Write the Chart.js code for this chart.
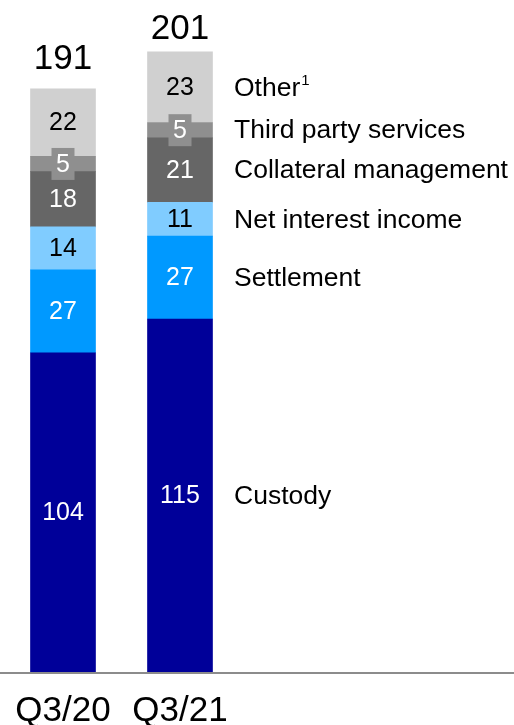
<!DOCTYPE html>
<html>
<head>
<meta charset="utf-8">
<script src="https://cdn.jsdelivr.net/npm/chart.js@4"></script>
<style>
  body { margin: 0; background: #fff; }
  canvas { display: block; }
</style>
</head>
<body>
<canvas id="revchart" width="514" height="725"></canvas>
<script>
const quarters = ['Q3/20', 'Q3/21'];
const custody = [104, 115];
const settlement = [27, 27];
const netInterest = [14, 11];
const collateral = [18, 21];
const thirdParty = [5, 5];
const other = [22, 23];
const totals = [191, 201];

const FONT = '"Liberation Sans", Arial, sans-serif';

// values inside each segment, totals on top, series names beside the last bar
const segmentLabels = {
    id: 'segmentLabels',
    afterDatasetsDraw(chart) {
        const ctx = chart.ctx;
        const yScale = chart.scales.y;
        ctx.save();

        // baseline across the whole width
        const y0 = yScale.getPixelForValue(0);
        ctx.strokeStyle = '#8c8c8c';
        ctx.lineWidth = 2;
        ctx.beginPath();
        ctx.moveTo(0, y0 + 1);
        ctx.lineTo(chart.width, y0 + 1);
        ctx.stroke();

        ctx.textAlign = 'center';
        ctx.textBaseline = 'middle';
        ctx.font = '25px ' + FONT;
        chart.data.datasets.forEach((ds, i) => {
            chart.getDatasetMeta(i).data.forEach((bar, j) => {
                const yMid = (bar.y + bar.base) / 2;
                if (ds.boxed) {
                    ctx.fillStyle = ds.backgroundColor;
                    ctx.fillRect(bar.x - 11.5, yMid - 16, 23, 32);
                }
                ctx.fillStyle = ds.labelColor;
                ctx.fillText(ds.data[j], bar.x, yMid + 1);
            });
        });

        ctx.font = '35px ' + FONT;
        ctx.fillStyle = '#000';
        totals.forEach((t, j) => {
            const x = chart.getDatasetMeta(0).data[j].x;
            ctx.fillText(t, x, yScale.getPixelForValue(t) - 26);
        });

        const last = quarters.length - 1;
        ctx.textAlign = 'left';
        chart.data.datasets.forEach((ds, i) => {
            const bar = chart.getDatasetMeta(i).data[last];
            const y = (bar.y + bar.base) / 2;
            ctx.font = '26.5px ' + FONT;
            ctx.fillText(ds.label, 234, y + 1);
            if (ds.note) {
                const w = ctx.measureText(ds.label).width;
                ctx.font = '15px ' + FONT;
                ctx.fillText(ds.note, 234 + w + 1, y - 6);
            }
        });
        ctx.restore();
    }
};

const ctx = document.getElementById('revchart').getContext('2d');
const chart = new Chart(ctx, {
    type: 'bar',
    data: {
        labels: quarters,
        datasets: [
            { label: 'Custody', data: custody, backgroundColor: '#000099', labelColor: '#fff' },
            { label: 'Settlement', data: settlement, backgroundColor: '#0099ff', labelColor: '#fff' },
            { label: 'Net interest income', data: netInterest, backgroundColor: '#80ccff', labelColor: '#000' },
            { label: 'Collateral management', data: collateral, backgroundColor: '#666666', labelColor: '#fff' },
            { label: 'Third party services', data: thirdParty, backgroundColor: '#8f8f8f', labelColor: '#fff', boxed: true },
            { label: 'Other', data: other, backgroundColor: '#d0d0d0', labelColor: '#000', note: '1' }
        ]
    },
    options: {
        responsive: false,
        animation: false,
        barThickness: 65,
        layout: { padding: { left: 4.5, right: 275.5, top: 12, bottom: 0 } },
        plugins: { legend: { display: false }, tooltip: { enabled: false } },
        scales: {
            x: {
                stacked: true,
                grid: { display: false },
                border: { display: false },
                ticks: { color: '#000', padding: 14, maxRotation: 0, font: { family: FONT, size: 35, lineHeight: 1 } },
                afterFit(scale) {
                    scale.height = 53;
                    scale.paddingLeft = 0;
                    scale.paddingRight = 0;
                }
            },
            y: {
                stacked: true,
                display: false,
                min: 0,
                max: 215
            }
        }
    },
    plugins: [segmentLabels]
});
</script>
</body>
</html>
